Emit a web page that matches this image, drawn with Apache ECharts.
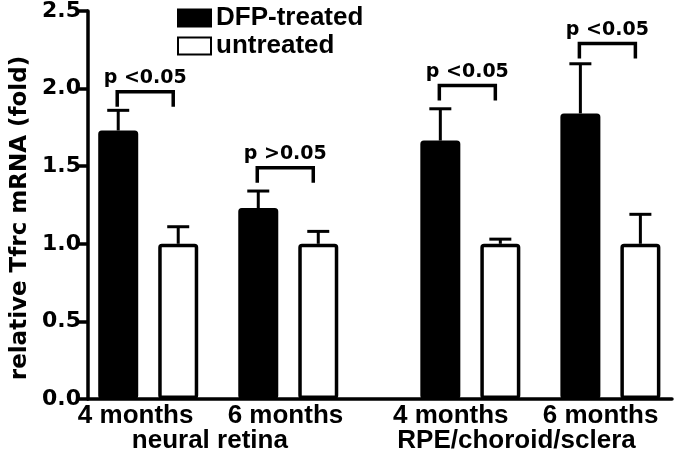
<!DOCTYPE html>
<html>
<head>
<meta charset="utf-8">
<script src="https://cdn.jsdelivr.net/npm/echarts@6/dist/echarts.min.js"></script>
<style>
html, body { margin: 0; padding: 0; background: #fff; }
#chart { width: 676px; height: 459px; }
</style>
</head>
<body>
<div id="chart"></div>
<script>
// values
var months = ['4 months', '6 months', '4 months', '6 months'];
var tissues = ['neural retina', 'RPE/choroid/sclera'];
var dfpMean = [1.73, 1.23, 1.665, 1.84];
var dfpErr = [0.13, 0.11, 0.205, 0.32];
var untreatedMean = [1.0, 1.0, 1.0, 1.0];
var untreatedErr = [0.11, 0.08, 0.03, 0.19];
var pText = ['p <0.05', 'p >0.05', 'p <0.05', 'p <0.05'];
var pLevel = [1.98, 1.49, 2.02, 2.29];

// layout: where each pair sits on the x axis (a gap between the two tissues)
var groupX = [0, 1, 2.3, 3.3];
var monthLabelX = [-0.09, 0.98, 2.16, 3.23];
var tissueLabelX = [0.44, 2.63];

var BAR_OFFSET = 30; // px from pair centre to each bar centre

function nearest(arr, v) {
    var best = 0;
    for (var i = 1; i < arr.length; i++) {
        if (Math.abs(arr[i] - v) < Math.abs(arr[best] - v)) best = i;
    }
    return best;
}

function errorBar(dx) {
    return function (params, api) {
        var x = api.value(0);
        var y0 = api.value(1);
        var y1 = y0 + api.value(2);
        var p0 = api.coord([x, y0]);
        var p1 = api.coord([x, y1]);
        var cx = p0[0] + dx;
        var st = { stroke: '#000', lineWidth: 3 };
        return {
            type: 'group',
            children: [
                { type: 'line', shape: { x1: cx, y1: p0[1], x2: cx, y2: p1[1] }, style: st },
                { type: 'line', shape: { x1: cx - 11, y1: p1[1], x2: cx + 11, y2: p1[1] }, style: st }
            ]
        };
    };
}

var chart = echarts.init(document.getElementById('chart'));
chart.setOption({
    animation: false,
    backgroundColor: '#fff',
    grid: { left: 88, right: 4, top: 10, bottom: 60, containLabel: false },
    legend: {
        data: ['DFP-treated', 'untreated'],
        orient: 'vertical',
        left: 177,
        top: 5,
        padding: 0,
        itemWidth: 33,
        itemHeight: 17,
        itemGap: 2,
        itemTextGap: 3,
        icon: 'rect',
        selectedMode: false,
        textStyle: { color: '#000', fontFamily: 'Liberation Sans', fontWeight: 'bold', fontSize: 26 }
    },
    xAxis: [
        {
            type: 'value',
            min: -0.43,
            max: 3.74,
            splitLine: { show: false },
            axisTick: { show: false },
            axisLine: { show: true, onZero: false, lineStyle: { color: '#000', width: 3.5 } },
            axisLabel: {
                customValues: monthLabelX,
                margin: 4,
                color: '#000',
                fontFamily: 'Liberation Sans',
                fontWeight: 'bold',
                fontSize: 26,
                formatter: function (v) { return months[nearest(monthLabelX, v)]; }
            }
        },
        {
            type: 'value',
            position: 'bottom',
            min: -0.43,
            max: 3.74,
            splitLine: { show: false },
            axisTick: { show: false },
            axisLine: { show: false, onZero: false },
            axisLabel: {
                customValues: tissueLabelX,
                margin: 29,
                color: '#000',
                fontFamily: 'Liberation Sans',
                fontWeight: 'bold',
                fontSize: 26,
                formatter: function (v) { return tissues[nearest(tissueLabelX, v)]; }
            }
        }
    ],
    yAxis: {
        type: 'value',
        min: 0,
        max: 2.5,
        interval: 0.5,
        name: 'relative Tfrc mRNA (fold)',
        nameLocation: 'middle',
        nameGap: 49,
        nameTextStyle: {
            color: '#000', fontFamily: 'DejaVu Sans', fontWeight: 'bold', fontSize: 23,
            padding: [0, 26, 0, 0]
        },
        splitLine: { show: false },
        axisLine: { show: true, onZero: false, lineStyle: { color: '#000', width: 3.5 } },
        axisTick: { show: true, length: 9, lineStyle: { color: '#000', width: 3.5 } },
        axisLabel: {
            margin: 7,
            color: '#000',
            fontFamily: 'DejaVu Sans',
            fontWeight: 'bold',
            fontSize: 22,
            formatter: function (v) { return v.toFixed(1); }
        }
    },
    series: [
        {
            name: 'DFP-treated',
            type: 'bar',
            barWidth: 40,
            barGap: '50%',
            itemStyle: { color: '#000', borderColor: '#000', borderWidth: 3, borderRadius: 2 },
            data: groupX.map(function (x, i) { return [x, dfpMean[i]]; })
        },
        {
            name: 'untreated',
            type: 'bar',
            barWidth: 40,
            barGap: '50%',
            itemStyle: { color: '#fff', borderColor: '#000', borderWidth: 3.5, borderRadius: 2 },
            data: groupX.map(function (x, i) { return [x, untreatedMean[i]]; })
        },
        {
            name: 'dfpErr',
            type: 'custom',
            z: 5,
            renderItem: errorBar(-BAR_OFFSET),
            data: groupX.map(function (x, i) { return [x, dfpMean[i], dfpErr[i]]; })
        },
        {
            name: 'untreatedErr',
            type: 'custom',
            z: 5,
            renderItem: errorBar(BAR_OFFSET),
            data: groupX.map(function (x, i) { return [x, untreatedMean[i], untreatedErr[i]]; })
        },
        {
            name: 'pvalues',
            type: 'custom',
            z: 5,
            renderItem: function (params, api) {
                var c = api.coord([api.value(0), api.value(1)]);
                var l = c[0] - BAR_OFFSET - 1;
                var r = c[0] + BAR_OFFSET - 5;
                return {
                    type: 'group',
                    children: [
                        {
                            type: 'polyline',
                            shape: { points: [[l, c[1] + 15], [l, c[1]], [r, c[1]], [r, c[1] + 15]] },
                            style: { stroke: '#000', lineWidth: 3.5, fill: null }
                        },
                        {
                            type: 'text',
                            style: {
                                text: pText[params.dataIndex],
                                x: (l + r) / 2,
                                y: c[1] - 4,
                                align: 'center',
                                verticalAlign: 'bottom',
                                fill: '#000',
                                font: 'bold 19px "DejaVu Sans"'
                            }
                        }
                    ]
                };
            },
            data: groupX.map(function (x, i) { return [x, pLevel[i]]; })
        }
    ]
});
</script>
</body>
</html>
